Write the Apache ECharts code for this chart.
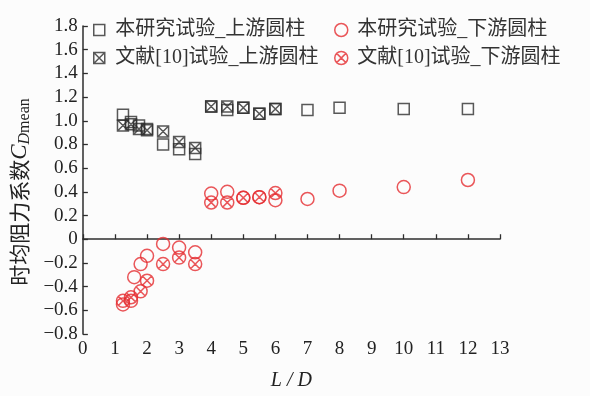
<!DOCTYPE html>
<html>
<head>
<meta charset="utf-8">
<script src="https://cdn.jsdelivr.net/npm/echarts@6/dist/echarts.min.js"></script>
<style>
  html, body { margin: 0; padding: 0; background: #fcfcfc; }
  #chart { width: 590px; height: 396px; }
</style>
</head>
<body>
<div id="chart"></div>
<script>
// Tick labels
const xTickLabels = ['0','1','2','3','4','5','6','7','8','9','10','11','12','13'];
const yTickLabels = ['\u22120.8','\u22120.6','\u22120.4','\u22120.2','0','0.2','0.4','0.6','0.8','1.0','1.2','1.4','1.6','1.8'];

// Series names
const seriesNames = ['本研究试验_上游圆柱', '本研究试验_下游圆柱', '文献[10]试验_上游圆柱', '文献[10]试验_下游圆柱'];

// Upstream cylinder, present tests
const upPresentX  = [1.25, 1.5, 1.75, 2, 2.5, 3, 3.5, 4, 4.5, 5, 5.5, 6, 7, 8, 10, 12];
const upPresentCd = [1.05, 0.99, 0.96, 0.93, 0.80, 0.76, 0.72, 1.12, 1.09, 1.11, 1.06, 1.10, 1.09, 1.11, 1.10, 1.10];
// Upstream cylinder, ref. [10]
const upRefX  = [1.25, 1.5, 1.75, 2, 2.5, 3, 3.5, 4, 4.5, 5, 5.5, 6];
const upRefCd = [0.96, 0.97, 0.93, 0.92, 0.91, 0.82, 0.77, 1.12, 1.12, 1.11, 1.06, 1.10];
// Downstream cylinder, present tests
const downPresentX  = [1.25, 1.5, 1.6, 1.8, 2, 2.5, 3, 3.5, 4, 4.5, 5, 5.5, 6, 7, 8, 10, 12];
const downPresentCd = [-0.55, -0.52, -0.32, -0.21, -0.14, -0.04, -0.07, -0.11, 0.385, 0.40, 0.35, 0.355, 0.33, 0.34, 0.41, 0.44, 0.50];
// Downstream cylinder, ref. [10]
const downRefX  = [1.25, 1.5, 1.8, 2, 2.5, 3, 3.5, 4, 4.5, 5, 5.5, 6];
const downRefCd = [-0.52, -0.49, -0.44, -0.35, -0.21, -0.155, -0.21, 0.31, 0.31, 0.35, 0.355, 0.39];

const zip = (xs, ys) => xs.map((x, i) => [x, ys[i]]);

const BLACK = '#2e2e2e';
const RED = '#e52c30';
const serifFont = "'Liberation Serif', 'Noto Sans CJK SC', serif";

const SYM_SQUARE = 'path://M0,0H10V10H0Z';
const SYM_SQUARE_X = 'path://M0,0H10V10H0ZM0,0L10,10M10,0L0,10';
const SYM_CIRCLE = 'path://M0,5A5,5 0 1,1 10,5A5,5 0 1,1 0,5Z';
const SYM_CIRCLE_X = 'path://M0,5A5,5 0 1,1 10,5A5,5 0 1,1 0,5ZM1.46,1.46L8.54,8.54M8.54,1.46L1.46,8.54';

const styleOf = (c) => ({ color: 'transparent', borderColor: c, borderWidth: 1.5 });

const markers = {
  [seriesNames[0]]: { icon: SYM_SQUARE,   size: 11, color: BLACK },
  [seriesNames[1]]: { icon: SYM_CIRCLE,   size: 13, color: RED },
  [seriesNames[2]]: { icon: SYM_SQUARE_X, size: 11, color: BLACK },
  [seriesNames[3]]: { icon: SYM_CIRCLE_X, size: 13, color: RED }
};

function legendAt(name, left, top) {
  const m = markers[name];
  return {
    left: left, top: top,
    orient: 'horizontal',
    itemWidth: 22, itemHeight: m.size,
    itemGap: 0,
    selectedMode: false,
    textStyle: { fontSize: 20, fontFamily: serifFont, color: '#333' },
    data: [{ name: name, icon: m.icon, itemStyle: styleOf(m.color) }]
  };
}

function scatter(name, data) {
  const m = markers[name];
  return {
    name: name,
    type: 'scatter',
    data: data,
    symbol: m.icon,
    symbolSize: m.size,
    symbolKeepAspect: true,
    itemStyle: styleOf(m.color),
    emphasis: { disabled: true }
  };
}

const chart = echarts.init(document.getElementById('chart'), null, { renderer: 'canvas' });

chart.setOption({
  backgroundColor: '#fcfcfc',
  animation: false,
  grid: { left: 81, right: 90, top: 26, bottom: 61 },
  legend: [
    legendAt(seriesNames[0], 88, 15),
    legendAt(seriesNames[1], 329, 15),
    legendAt(seriesNames[2], 88, 43),
    legendAt(seriesNames[3], 329, 43)
  ],
  xAxis: {
    type: 'value',
    min: 0, max: 13, interval: 1,
    name: 'L / D',
    nameLocation: 'middle',
    nameGap: 37,
    nameTextStyle: { fontSize: 20, fontStyle: 'italic', fontFamily: serifFont, color: '#222' },
    axisLine: { lineStyle: { color: BLACK, width: 1.5 } },
    axisTick: { inside: true, length: 5, lineStyle: { color: BLACK, width: 1.3 } },
    axisLabel: {
      fontSize: 19, fontFamily: serifFont, color: '#222', margin: 6,
      formatter: (v) => xTickLabels[Math.round(v)]
    },
    splitLine: { show: false }
  },
  yAxis: {
    type: 'value',
    min: -0.8, max: 1.8, interval: 0.2,
    name: '{cn|时均阻力系数}{c|C}{d|D}{m|mean}',
    nameLocation: 'middle',
    nameRotate: 90,
    nameGap: 50,
    nameTextStyle: {
      color: '#222',
      padding: [0, 24, 0, 0],
      rich: {
        cn: { fontSize: 21, fontFamily: "'Noto Sans CJK SC', sans-serif", color: '#222', lineHeight: 26 },
        c:  { fontSize: 23, fontStyle: 'italic', fontFamily: serifFont, color: '#222', lineHeight: 26 },
        d:  { fontSize: 16, fontStyle: 'italic', fontFamily: serifFont, color: '#222', verticalAlign: 'bottom', lineHeight: 17 },
        m:  { fontSize: 16, fontFamily: serifFont, color: '#222', verticalAlign: 'bottom', lineHeight: 17 }
      }
    },
    axisLine: { show: true, lineStyle: { color: BLACK, width: 1.5 } },
    axisTick: { show: true, inside: true, length: 5, lineStyle: { color: BLACK, width: 1.3 } },
    axisLabel: {
      fontSize: 19, fontFamily: serifFont, color: '#222', margin: 5,
      formatter: (v) => yTickLabels[Math.round((v + 0.8) / 0.2)]
    },
    splitLine: { show: false }
  },
  series: [
    scatter(seriesNames[0], zip(upPresentX, upPresentCd)),
    scatter(seriesNames[2], zip(upRefX, upRefCd)),
    scatter(seriesNames[1], zip(downPresentX, downPresentCd)),
    scatter(seriesNames[3], zip(downRefX, downRefCd))
  ]
});
</script>
</body>
</html>
